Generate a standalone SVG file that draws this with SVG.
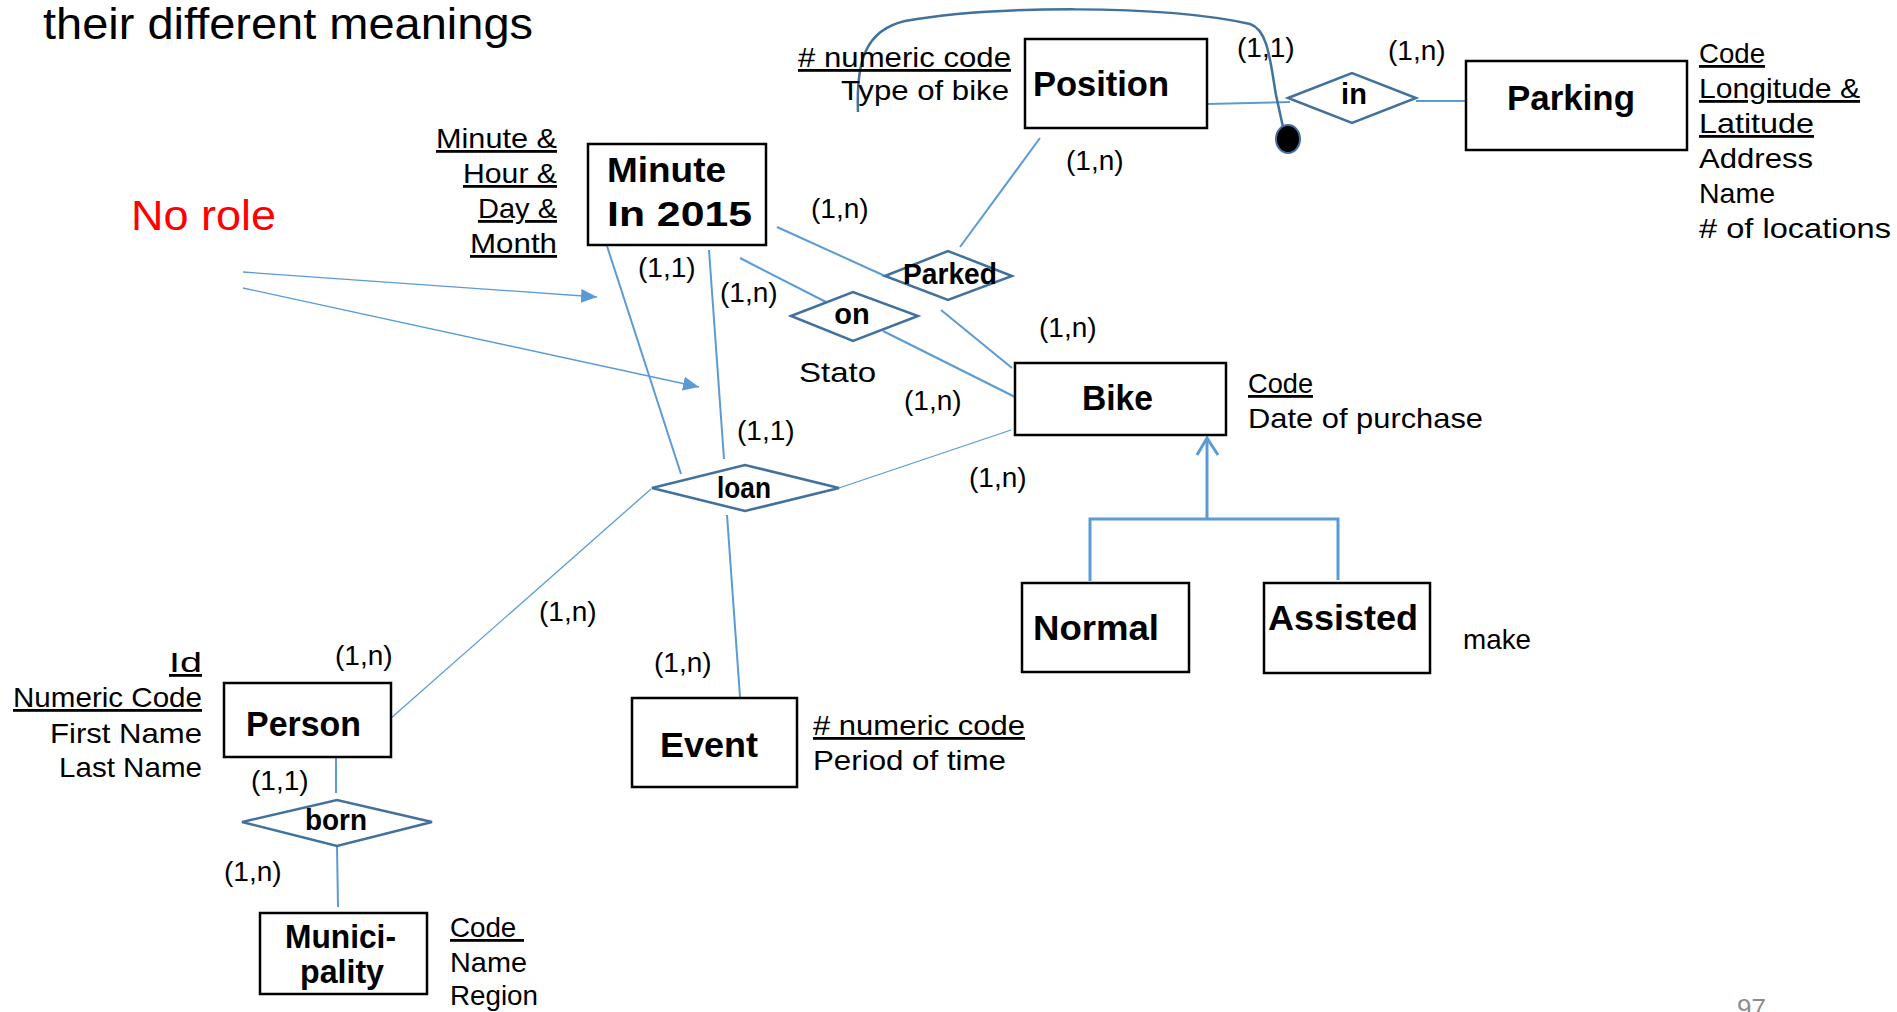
<svg xmlns="http://www.w3.org/2000/svg" width="1897" height="1012" viewBox="0 0 1897 1012">
  <style>
    text { font-family: "Liberation Sans", Arial, sans-serif; fill: #000; }
    .at { font-size: 28px; }
    .ul { text-decoration: underline; }
    .bd { font-weight: bold; font-size: 35px; }
    .rl { font-weight: bold; font-size: 29px; text-anchor: middle; }
    .cd { font-size: 28px; }
    .ent { fill: #fff; stroke: #000; stroke-width: 2.5; }
    .rel { fill: #fff; stroke: #41719C; stroke-width: 2.5; }
    .ln { stroke: #5B9BD5; stroke-width: 2; fill: none; }
    .thin { stroke-width: 1.3; }
    .isa { stroke: #5B9BD5; stroke-width: 3; fill: none; }
  </style>
  <defs>
    <marker id="tri" viewBox="0 0 16 14" refX="16" refY="7" markerWidth="16" markerHeight="14" markerUnits="userSpaceOnUse" orient="auto">
      <path d="M0,0 L16,7 L0,14 z" fill="#5B9BD5" />
    </marker>
  </defs>

  <rect width="1897" height="1012" fill="#fff" />

  <!-- heading and annotations -->
  <text x="43" y="39" font-size="44" textLength="490" lengthAdjust="spacingAndGlyphs">their different meanings</text>
  <text x="131" y="230" font-size="42" style="fill:#FF0000" textLength="145" lengthAdjust="spacingAndGlyphs">No role</text>
  <text x="1737" y="1017" font-size="26" style="fill:#8c8c8c">97</text>

  <!-- connectors -->
  <g id="connectors">
    <line class="ln" x1="777" y1="227" x2="885" y2="276" />
    <line class="ln" x1="1040" y1="138" x2="960" y2="247" />
    <line class="ln" x1="941" y1="310" x2="1012" y2="368" />
    <line class="ln" x1="740" y1="258" x2="826" y2="302" />
    <line class="ln" x1="883" y1="331" x2="1015" y2="397" />
    <line class="ln" x1="709" y1="250" x2="724" y2="459" />
    <line class="ln" x1="607" y1="246" x2="681" y2="474" />
    <line class="ln thin" x1="839" y1="488" x2="1011" y2="430" />
    <line class="ln thin" x1="651" y1="489" x2="390" y2="719" />
    <line class="ln" x1="727" y1="515" x2="740" y2="697" />
    <line class="ln" x1="336" y1="753" x2="336" y2="793" />
    <line class="ln" x1="337" y1="846" x2="338" y2="907" />
    <line class="ln" x1="1207" y1="104" x2="1290" y2="102" />
    <line class="ln" x1="1416" y1="101" x2="1466" y2="101" />
    <!-- identifier arc from Position attribute to the in relationship -->
    <path d="M858,112 C856,60 866,30 905,21 C990,6 1160,4 1250,24 C1268,30 1270,60 1276,95 L1283,127" stroke="#41719C" stroke-width="2.5" fill="none" />
    <ellipse cx="1288" cy="139" rx="12" ry="14" fill="#000" stroke="#41719C" stroke-width="2" />
    <!-- pointer arrows from the note -->
    <line class="ln thin" x1="243" y1="272" x2="597" y2="297" marker-end="url(#tri)" />
    <line class="ln thin" x1="243" y1="288" x2="699" y2="387" marker-end="url(#tri)" />
    <!-- generalization Bike <- Normal / Assisted -->
    <line class="isa" x1="1207" y1="519" x2="1207" y2="438" />
    <polyline class="isa" points="1197,455 1207,438 1218,455" />
    <polyline class="isa" points="1090,581 1090,519 1338,519 1338,580" />
  </g>

  <!-- entities -->
  <g id="minute">
    <rect class="ent" x="588" y="144" width="178" height="101" />
    <text class="bd" x="607" y="182" textLength="119" lengthAdjust="spacingAndGlyphs">Minute</text>
    <text class="bd" x="607" y="226" textLength="145" lengthAdjust="spacingAndGlyphs">In 2015</text>
    <text class="at ul" x="557" y="148" text-anchor="end" textLength="121" lengthAdjust="spacingAndGlyphs">Minute &amp;</text>
    <text class="at ul" x="557" y="183" text-anchor="end" textLength="94" lengthAdjust="spacingAndGlyphs">Hour &amp;</text>
    <text class="at ul" x="557" y="218" text-anchor="end" textLength="79" lengthAdjust="spacingAndGlyphs">Day &amp;</text>
    <text class="at ul" x="557" y="253" text-anchor="end" textLength="87" lengthAdjust="spacingAndGlyphs">Month</text>
  </g>

  <g id="position">
    <rect class="ent" x="1025" y="39" width="182" height="89" />
    <text class="bd" x="1033" y="96" textLength="136" lengthAdjust="spacingAndGlyphs">Position</text>
    <text class="at ul" x="1011" y="67" text-anchor="end" textLength="213" lengthAdjust="spacingAndGlyphs"># numeric code</text>
    <text class="at" x="1009" y="100" text-anchor="end" textLength="168" lengthAdjust="spacingAndGlyphs">Type of bike</text>
  </g>

  <g id="parking">
    <rect class="ent" x="1466" y="61" width="221" height="89" />
    <text class="bd" x="1507" y="110" textLength="128" lengthAdjust="spacingAndGlyphs">Parking</text>
    <text class="at ul" x="1699" y="63" textLength="66" lengthAdjust="spacingAndGlyphs">Code</text>
    <text class="at ul" x="1699" y="98" textLength="161" lengthAdjust="spacingAndGlyphs">Longitude &amp;</text>
    <text class="at ul" x="1699" y="133" textLength="115" lengthAdjust="spacingAndGlyphs">Latitude</text>
    <text class="at" x="1699" y="168" textLength="114" lengthAdjust="spacingAndGlyphs">Address</text>
    <text class="at" x="1699" y="203" textLength="76" lengthAdjust="spacingAndGlyphs">Name</text>
    <text class="at" x="1699" y="238" textLength="192" lengthAdjust="spacingAndGlyphs"># of locations</text>
  </g>

  <g id="bike">
    <rect class="ent" x="1015" y="363" width="211" height="72" />
    <text class="bd" x="1082" y="410" textLength="71" lengthAdjust="spacingAndGlyphs">Bike</text>
    <text class="at ul" x="1248" y="393" textLength="65" lengthAdjust="spacingAndGlyphs">Code</text>
    <text class="at" x="1248" y="428" textLength="235" lengthAdjust="spacingAndGlyphs">Date of purchase</text>
  </g>

  <g id="normal">
    <rect class="ent" x="1022" y="583" width="167" height="89" />
    <text class="bd" x="1033" y="640" textLength="126" lengthAdjust="spacingAndGlyphs">Normal</text>
  </g>

  <g id="assisted">
    <rect class="ent" x="1264" y="583" width="166" height="90" />
    <text class="bd" x="1268" y="630" textLength="150" lengthAdjust="spacingAndGlyphs">Assisted</text>
    <text class="at" x="1463" y="649" textLength="68" lengthAdjust="spacingAndGlyphs">make</text>
  </g>

  <g id="event">
    <rect class="ent" x="632" y="698" width="165" height="89" />
    <text class="bd" x="660" y="757" textLength="98" lengthAdjust="spacingAndGlyphs">Event</text>
    <text class="at ul" x="813" y="735" textLength="212" lengthAdjust="spacingAndGlyphs"># numeric code</text>
    <text class="at" x="813" y="770" textLength="193" lengthAdjust="spacingAndGlyphs">Period of time</text>
  </g>

  <g id="person">
    <rect class="ent" x="224" y="683" width="167" height="74" />
    <text class="bd" x="246" y="736" textLength="115" lengthAdjust="spacingAndGlyphs">Person</text>
    <text class="at ul" x="202" y="672" text-anchor="end" textLength="33" lengthAdjust="spacingAndGlyphs">Id</text>
    <text class="at ul" x="202" y="707" text-anchor="end" textLength="189" lengthAdjust="spacingAndGlyphs">Numeric Code</text>
    <text class="at" x="202" y="743" text-anchor="end" textLength="152" lengthAdjust="spacingAndGlyphs">First Name</text>
    <text class="at" x="202" y="777" text-anchor="end" textLength="143" lengthAdjust="spacingAndGlyphs">Last Name</text>
  </g>

  <g id="municipality">
    <rect class="ent" x="260" y="913" width="167" height="81" />
    <text class="bd" x="285" y="948" style="font-size:33px" textLength="111" lengthAdjust="spacingAndGlyphs">Munici-</text>
    <text class="bd" x="300" y="983" style="font-size:33px" textLength="84" lengthAdjust="spacingAndGlyphs">pality</text>
    <text class="at ul" x="450" y="937" xml:space="preserve" textLength="74" lengthAdjust="spacingAndGlyphs">Code </text>
    <text class="at" x="450" y="972" textLength="77" lengthAdjust="spacingAndGlyphs">Name</text>
    <text class="at" x="450" y="1005" textLength="88" lengthAdjust="spacingAndGlyphs">Region</text>
  </g>

  <!-- relationships -->
  <g id="in">
    <polygon class="rel" points="1288,98 1352,73 1416,98 1352,123" />
    <text class="rl" x="1354" y="104">in</text>
  </g>
  <g id="parked">
    <polygon class="rel" points="885,276 948,251 1012,276 948,300" />
    <text class="rl" x="950" y="284" textLength="94" lengthAdjust="spacingAndGlyphs">Parked</text>
  </g>
  <g id="on">
    <polygon class="rel" points="791,316 853,292 918,316 853,341" />
    <text class="rl" x="852" y="324">on</text>
  </g>
  <g id="loan">
    <polygon class="rel" points="652,488 745,465 839,488 745,511" />
    <text class="rl" x="744" y="498" textLength="54" lengthAdjust="spacingAndGlyphs">loan</text>
  </g>
  <g id="born">
    <polygon class="rel" points="242,822 337,800 432,822 337,846" />
    <text class="rl" x="336" y="830" textLength="62" lengthAdjust="spacingAndGlyphs">born</text>
  </g>

  <!-- cardinalities and role note -->
  <g id="labels">
    <text class="cd" x="811" y="218">(1,n)</text>
    <text class="cd" x="1066" y="170">(1,n)</text>
    <text class="cd" x="1237" y="57">(1,1)</text>
    <text class="cd" x="1388" y="60">(1,n)</text>
    <text class="cd" x="638" y="277">(1,1)</text>
    <text class="cd" x="720" y="302">(1,n)</text>
    <text class="cd" x="1039" y="337">(1,n)</text>
    <text class="at" x="799" y="382" textLength="77" lengthAdjust="spacingAndGlyphs">Stato</text>
    <text class="cd" x="904" y="410">(1,n)</text>
    <text class="cd" x="737" y="440">(1,1)</text>
    <text class="cd" x="969" y="487">(1,n)</text>
    <text class="cd" x="539" y="621">(1,n)</text>
    <text class="cd" x="654" y="672">(1,n)</text>
    <text class="cd" x="335" y="665">(1,n)</text>
    <text class="cd" x="251" y="790">(1,1)</text>
    <text class="cd" x="224" y="881">(1,n)</text>
  </g>
</svg>
